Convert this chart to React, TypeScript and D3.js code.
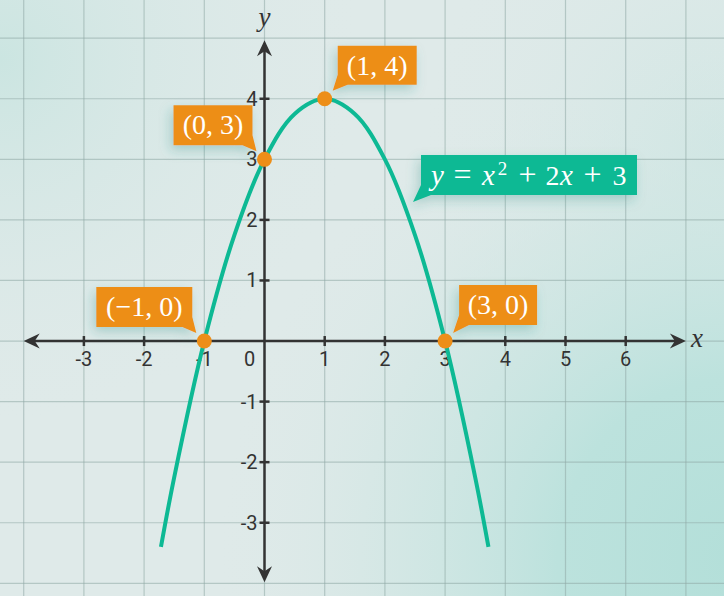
import * as d3 from "d3";
import { useRef, useEffect } from "react";

// axis ticks
const xTicks: number[] = [-3, -2, -1, 1, 2, 3, 4, 5, 6];
const yTicks: number[] = [-3, -2, -1, 1, 2, 3, 4];
const xGrid: number[] = [-4, -3, -2, -1, 0, 1, 2, 3, 4, 5, 6, 7];
const yGrid: number[] = [-4, -3, -2, -1, 0, 1, 2, 3, 4, 5];

// parabola, points
const curveX: number[] = [-1.72, -1.5, -1, -0.5, 0, 0.5, 1, 1.5, 2, 2.5, 3, 3.5, 3.72];
const curveY: number[] = [-3.4, -2.25, 0, 1.75, 3, 3.75, 4, 3.75, 3, 1.75, 0, -2.25, -3.4];

// marked points
const pointX: number[] = [-1, 0, 1, 3];
const pointY: number[] = [0, 3, 4, 0];
const pointLabels: string[] = ["(\u22121, 0)", "(0, 3)", "(1, 4)", "(3, 0)"];

// equation label pieces
const eqParts: string[] = ["y", "=", "x", "2", "+", "2", "x", "+", "3"];

// callout boxes relative to each point (px): left, top, width, height, tail side
const calloutLayout = [
  { dx: -108, dy: -54, w: 96, h: 40, side: "right" },
  { dx: -91, dy: -54, w: 79, h: 40, side: "right" },
  { dx: 13, dy: -53, w: 79, h: 39, side: "left" },
  { dx: 14, dy: -56, w: 78, h: 40, side: "left" },
];
// centre offsets of the equation pieces inside their box
const eqLayout = [
  { x: 16.5, italic: true, size: 29 }, { x: 41.5, italic: false, size: 32 }, { x: 67.5, italic: true, size: 29 },
  { x: 81.5, italic: false, size: 19, sup: true }, { x: 106.5, italic: false, size: 32 }, { x: 131.5, italic: false, size: 28 },
  { x: 145.5, italic: true, size: 29 }, { x: 171.5, italic: false, size: 32 }, { x: 198.5, italic: false, size: 28 },
];

const ORANGE = "#ED8E18";
const GREEN = "#0DB994";
const AXIS = "#333333";

export default function App() {
  const svgRef: any = useRef();

  useEffect(() => {
    const w: number = 724;
    const h: number = 596;
    const svg = d3.select(svgRef.current).attr("width", w).attr("height", h);
    svg.selectAll("*").remove();

    const xScale = d3.scaleLinear().domain([-4, 7]).range([23.7, 685.9]);
    const yScale = d3.scaleLinear().domain([-4, 5]).range([583.3, 38.2]);
    const x0 = xScale(0);
    const y0 = yScale(0);

    //Background
    const defs = svg.append("defs");
    const g1 = defs.append("radialGradient").attr("id", "bgBR").attr("gradientUnits", "userSpaceOnUse")
      .attr("cx", 740).attr("cy", 560).attr("r", 520);
    g1.append("stop").attr("offset", "0%").attr("stop-color", "#b3dfd9");
    g1.append("stop").attr("offset", "35%").attr("stop-color", "#bce2dd");
    g1.append("stop").attr("offset", "70%").attr("stop-color", "#cfe6e3").attr("stop-opacity", 0.6);
    g1.append("stop").attr("offset", "100%").attr("stop-color", "#dde9e8").attr("stop-opacity", 0);
    const g2 = defs.append("radialGradient").attr("id", "bgTL").attr("gradientUnits", "userSpaceOnUse")
      .attr("cx", 0).attr("cy", 60).attr("r", 360);
    g2.append("stop").attr("offset", "0%").attr("stop-color", "#cbe5e1");
    g2.append("stop").attr("offset", "100%").attr("stop-color", "#dde9e8").attr("stop-opacity", 0);
    const g3 = defs.append("radialGradient").attr("id", "bgTR").attr("gradientUnits", "userSpaceOnUse")
      .attr("cx", 724).attr("cy", 150).attr("r", 300);
    g3.append("stop").attr("offset", "0%").attr("stop-color", "#cfe6e3");
    g3.append("stop").attr("offset", "100%").attr("stop-color", "#dde9e8").attr("stop-opacity", 0);

    const shadow = defs.append("filter").attr("id", "shadow")
      .attr("x", "-30%").attr("y", "-40%").attr("width", "160%").attr("height", "200%");
    shadow.append("feDropShadow").attr("dx", -3).attr("dy", 5).attr("stdDeviation", 6)
      .attr("flood-color", "#2c8f84").attr("flood-opacity", 0.3);

    svg.append("rect").attr("width", w).attr("height", h).attr("fill", "#dfeae9");
    svg.append("rect").attr("width", w).attr("height", h).attr("fill", "url(#bgTL)");
    svg.append("rect").attr("width", w).attr("height", h).attr("fill", "url(#bgTR)");
    svg.append("rect").attr("width", w).attr("height", h).attr("fill", "url(#bgBR)");

    //Grid
    const grid = svg.append("g").attr("stroke", "#8fa9a6").attr("stroke-opacity", 0.55).attr("stroke-width", 1.2);
    grid.selectAll(".vg").data(xGrid).join("line")
      .attr("x1", (d) => xScale(d)).attr("x2", (d) => xScale(d)).attr("y1", 0).attr("y2", h);
    grid.selectAll(".hg").data(yGrid).join("line")
      .attr("y1", (d) => yScale(d)).attr("y2", (d) => yScale(d)).attr("x1", 0).attr("x2", w);

    //Axes
    const axes = svg.append("g").attr("stroke", AXIS).attr("stroke-width", 2.5);
    axes.append("line").attr("x1", xScale(-4) + 6).attr("x2", xScale(7) - 6).attr("y1", y0).attr("y2", y0);
    axes.append("line").attr("y1", yScale(5) + 6).attr("y2", yScale(-4) - 6).attr("x1", x0).attr("x2", x0);
    const arrow = (tx: number, ty: number, angle: number) =>
      svg.append("path").attr("d", "M0,0 L-16,-7.5 L-11,0 L-16,7.5 Z").attr("fill", AXIS)
        .attr("transform", `translate(${tx},${ty}) rotate(${angle})`);
    arrow(xScale(7), y0, 0);
    arrow(xScale(-4), y0, 180);
    arrow(x0, yScale(5) + 2, -90);
    arrow(x0, yScale(-4) - 1, 90);

    axes.selectAll(".xt").data(xTicks).join("line")
      .attr("x1", (d) => xScale(d)).attr("x2", (d) => xScale(d)).attr("y1", y0 - 5).attr("y2", y0 + 5);
    axes.selectAll(".yt").data(yTicks).join("line")
      .attr("y1", (d) => yScale(d)).attr("y2", (d) => yScale(d)).attr("x1", x0 - 5).attr("x2", x0 + 5);

    const tickFont = "Roboto, 'Liberation Sans', sans-serif";
    svg.append("g").selectAll("text").data(xTicks).join("text")
      .attr("x", (d) => xScale(d)).attr("y", y0 + 25).attr("text-anchor", "middle")
      .attr("font-family", tickFont).attr("font-size", 20).attr("fill", AXIS).text((d) => `${d}`);
    svg.append("g").selectAll("text").data(yTicks).join("text")
      .attr("x", x0 - 7).attr("y", (d) => yScale(d) + 7).attr("text-anchor", "end")
      .attr("font-family", tickFont).attr("font-size", 20).attr("fill", AXIS).text((d) => `${d}`);
    svg.append("text").attr("x", x0 - 15).attr("y", y0 + 25).attr("text-anchor", "middle")
      .attr("font-family", tickFont).attr("font-size", 20).attr("fill", AXIS).text("0");

    const mathFont = "'Liberation Serif', 'DejaVu Serif', serif";
    svg.append("text").attr("x", x0).attr("y", 26).attr("text-anchor", "middle")
      .attr("font-family", mathFont).attr("font-style", "italic").attr("font-size", 27).attr("fill", AXIS).text("y");
    svg.append("text").attr("x", xScale(7) + 11).attr("y", y0 + 6).attr("text-anchor", "middle")
      .attr("font-family", mathFont).attr("font-style", "italic").attr("font-size", 27).attr("fill", AXIS).text("x");

    //Curve
    const line = d3.line<number>()
      .x((d) => xScale(d))
      .y((d, i) => yScale(curveY[i]))
      .curve(d3.curveCatmullRom.alpha(0.5));
    svg.append("path").datum(curveX).attr("d", line).attr("fill", "none")
      .attr("stroke", GREEN).attr("stroke-width", 4).attr("stroke-linecap", "butt");

    //Equation callout
    const eq = svg.append("g").attr("filter", "url(#shadow)");
    const ex = 421, ey = 155, ew = 216, eh = 40;
    eq.append("path").attr("fill", GREEN)
      .attr("d", `M${ex},${ey} H${ex + ew} V${ey + eh} H${ex + 10} L${ex - 8},${ey + eh + 7} L${ex},${ey + eh - 10} Z`);
    const eqText = svg.append("g").attr("font-family", mathFont).attr("fill", "#ffffff").attr("text-anchor", "middle");
    eqParts.forEach((p, i) => {
      const l = eqLayout[i];
      eqText.append("text").attr("x", ex + l.x).attr("y", ey + (l.sup ? 20 : 30))
        .attr("font-size", l.size).attr("font-style", l.italic ? "italic" : "normal").text(p);
    });

    //Point callouts
    pointX.forEach((px, i) => {
      const cx = xScale(px);
      const cy = yScale(pointY[i]);
      const c = calloutLayout[i];
      const l = cx + c.dx, t = cy + c.dy, r = l + c.w, b = t + c.h;
      const d = c.side === "right"
        ? `M${l},${t} H${r} V${b - 10} L${cx - 8},${cy - 8} L${r - 10},${b} H${l} Z`
        : `M${l},${t} H${r} V${b} H${l + 10} L${cx + 8},${cy - 8} L${l},${b - 10} Z`;
      svg.append("path").attr("d", d).attr("fill", ORANGE).attr("filter", "url(#shadow)");
      svg.append("text").attr("x", (l + r) / 2).attr("y", t + 29).attr("text-anchor", "middle")
        .attr("font-family", mathFont).attr("font-size", 28).attr("fill", "#ffffff").text(pointLabels[i]);
    });

    svg.append("g").selectAll("circle").data(pointX).join("circle")
      .attr("cx", (d) => xScale(d)).attr("cy", (d, i) => yScale(pointY[i])).attr("r", 7.5).attr("fill", ORANGE);
  }, []);

  return (
    <div>
      <style>{`body{margin:0}`}</style>
      <svg ref={svgRef} style={{ display: "block" }}></svg>
    </div>
  );
}
